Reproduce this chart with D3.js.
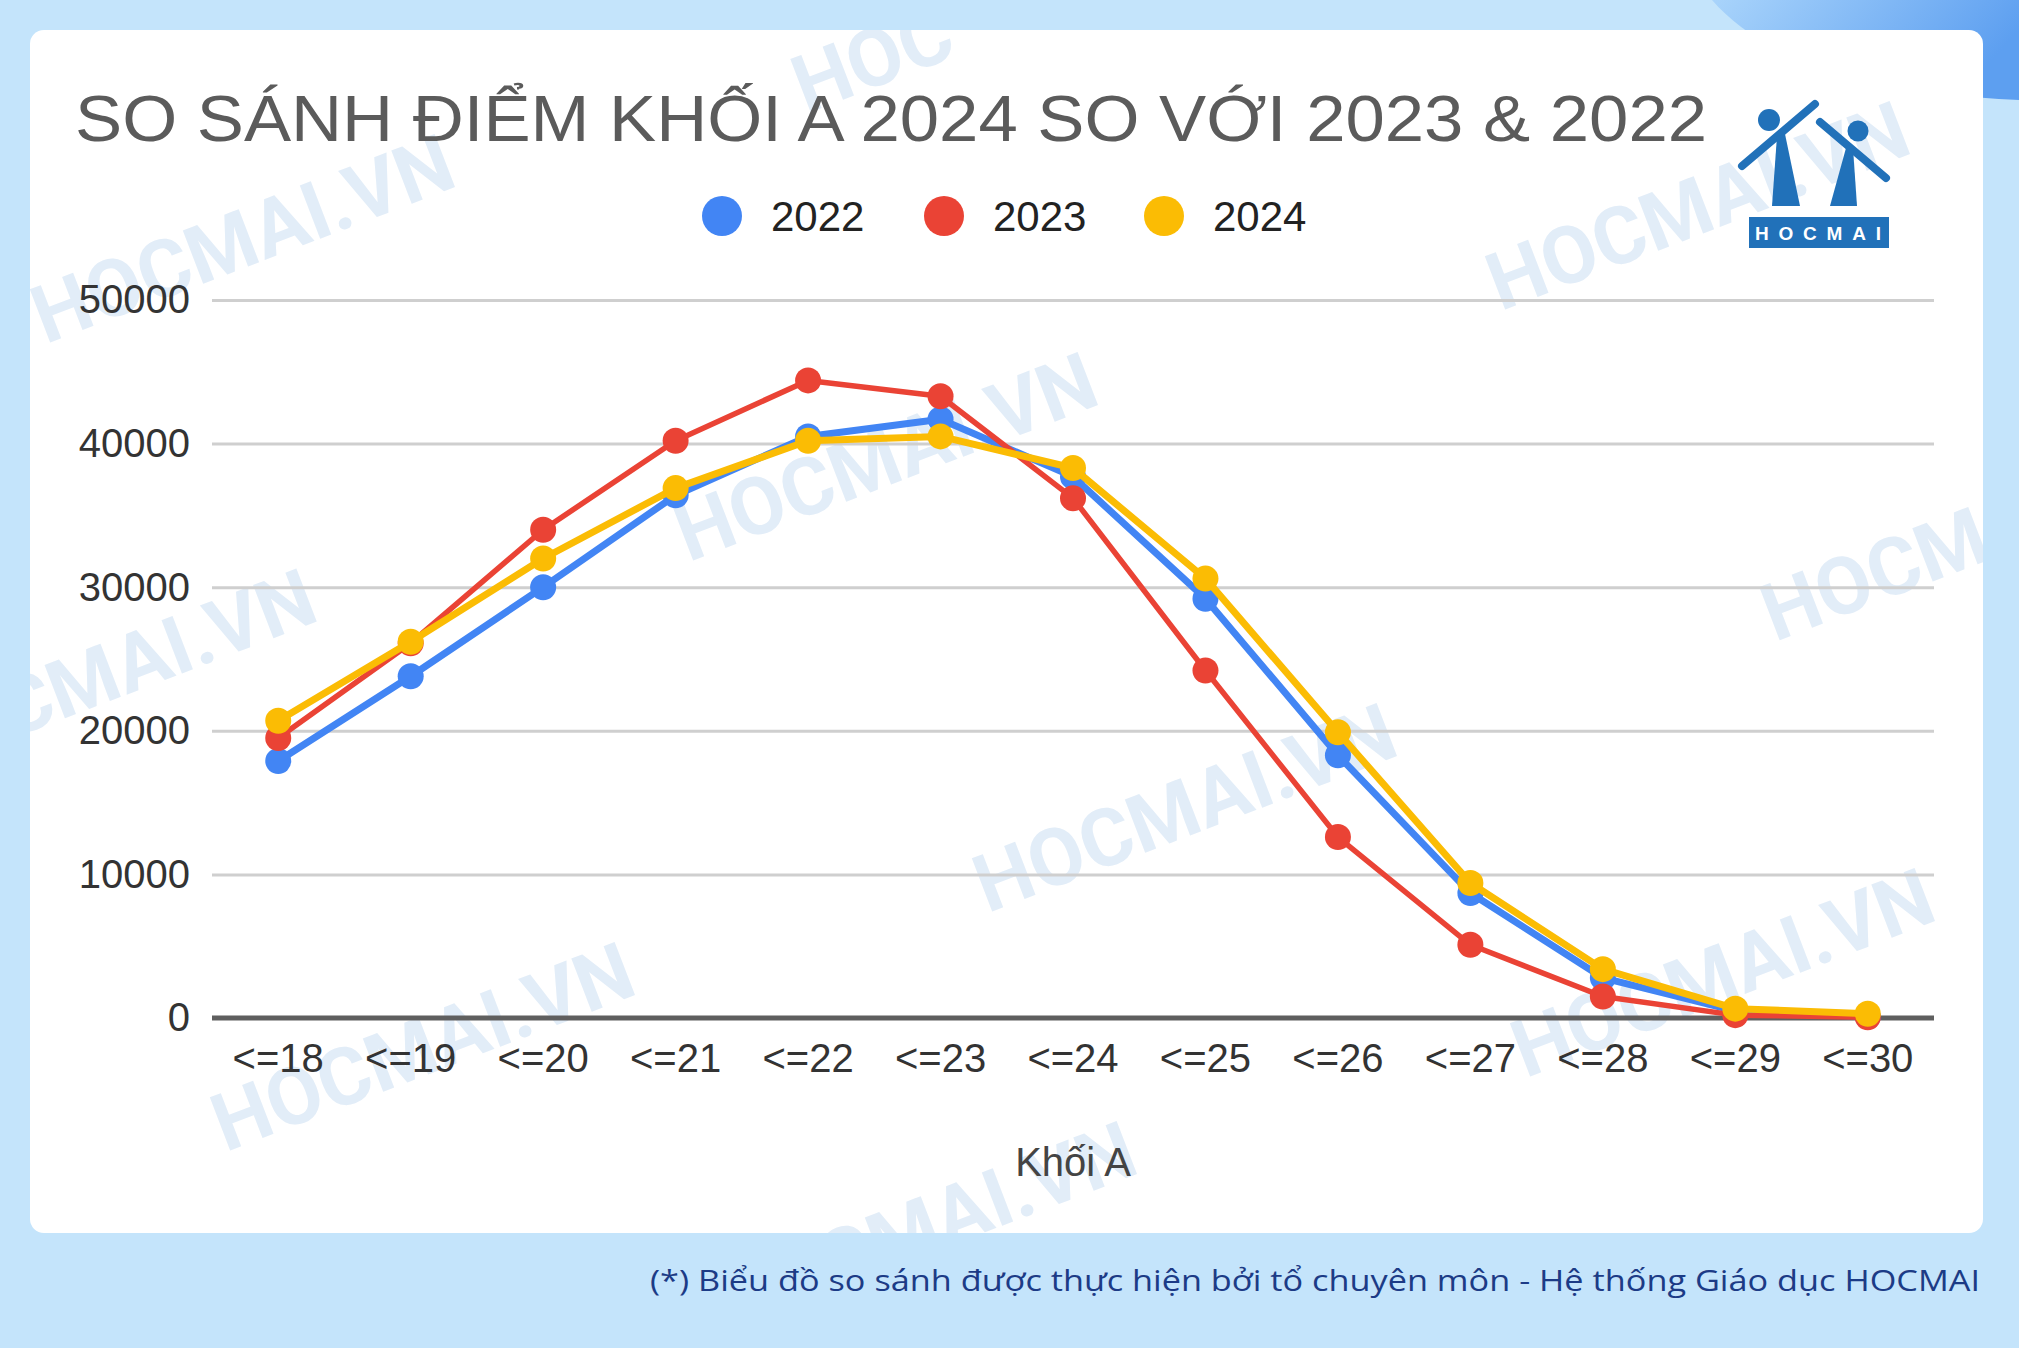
<!DOCTYPE html>
<html><head><meta charset="utf-8">
<script src="https://cdn.jsdelivr.net/npm/d3@7"></script>
<style>html,body{margin:0;padding:0;background:#c4e4fb;overflow:hidden}</style>
</head><body>
<svg id="c" width="2019" height="1348"></svg>
<script>
const categories = ["<=18","<=19","<=20","<=21","<=22","<=23","<=24","<=25","<=26","<=27","<=28","<=29","<=30"];
const years = ["2022","2023","2024"];
const values2022 = [17900, 23800, 30000, 36400, 40500, 41700, 37700, 29200, 18300, 8700, 2800, 500, 100];
const values2023 = [19500, 26100, 34000, 40200, 44400, 43300, 36200, 24200, 12600, 5100, 1500, 200, 50];
const values2024 = [20700, 26200, 32000, 36900, 40200, 40500, 38300, 30600, 19900, 9400, 3400, 650, 300];
const yTicks = [0, 10000, 20000, 30000, 40000, 50000];
const titleText = "SO SÁNH ĐIỂM KHỐI A 2024 SO VỚI 2023 & 2022";
const xTitle = "Khối A";
const footerText = "(*) Biểu đồ so sánh được thực hiện bởi tổ chuyên môn - Hệ thống Giáo dục HOCMAI";
const colors = ["#4285f4", "#ea4335", "#fbbc04"];
const seriesValues = [values2022, values2023, values2024];

const svg = d3.select("#c");
const defs = svg.append("defs");
const grad = defs.append("linearGradient").attr("id","tr").attr("x1","0").attr("y1","0").attr("x2","1").attr("y2","0.3");
grad.append("stop").attr("offset","0").attr("stop-color","#a9d4fb");
grad.append("stop").attr("offset","1").attr("stop-color","#5d9ff0");
defs.append("clipPath").attr("id","card").append("rect").attr("x",30).attr("y",30).attr("width",1953).attr("height",1203).attr("rx",14);

svg.append("rect").attr("width",2019).attr("height",1348).attr("fill","#c4e4fb");
svg.append("path").attr("d","M1712,0 C1760,55 1850,92 2019,100 L2019,0 Z").attr("fill","url(#tr)");
svg.append("rect").attr("x",30).attr("y",30).attr("width",1953).attr("height",1203).attr("rx",14).attr("fill","#ffffff");

// watermarks: [x, y, anchor, text]
const wmItems = [
  [245,245,"middle","HOCMAI.VN"],[888,463,"middle","HOCMAI.VN"],[1700,212,"middle","HOCMAI.VN"],
  [314,600,"end","CMAI.VN"],[1187,814,"middle","HOCMAI.VN"],[1775,642,"start","HOCM"],
  [425,1053,"middle","HOCMAI.VN"],[1725,979,"middle","HOCMAI.VN"],[806,114,"start","HOC"],[927,1232,"middle","HOCMAI.VN"]
];
const wm = svg.append("g").attr("clip-path","url(#card)");
wm.selectAll("text").data(wmItems).join("text")
  .attr("transform", d => `translate(${d[0]},${d[1]}) rotate(-21)`)
  .attr("text-anchor", d => d[2])
  .attr("dominant-baseline", d => d[2] === "middle" || d[2] === "end" ? "middle" : "auto")
  .attr("font-family","Roboto, 'Liberation Sans', sans-serif").attr("font-weight","bold")
  .attr("font-size",80).attr("fill","#e2edf8").text(d => d[3]);

// title
svg.append("text").attr("x",75).attr("y",141).attr("font-family","'Liberation Sans', Arial, sans-serif")
  .attr("font-size",64).attr("fill","#5b5b5b").attr("textLength",1632).attr("lengthAdjust","spacingAndGlyphs").text(titleText);

// legend
const legX = [722, 944, 1164];
const leg = svg.append("g");
years.forEach((yr,i) => {
  leg.append("circle").attr("cx",legX[i]).attr("cy",216).attr("r",20).attr("fill",colors[i]);
  leg.append("text").attr("x",legX[i]+49).attr("y",231).attr("font-family","'Liberation Sans', Arial, sans-serif")
    .attr("font-size",42).attr("fill","#222").text(yr);
});

// logo
const logo = svg.append("g").attr("fill","#2171b9");
logo.append("circle").attr("cx",1769).attr("cy",120).attr("r",11);
logo.append("line").attr("x1",1742).attr("y1",166).attr("x2",1815).attr("y2",104).attr("stroke","#2171b9").attr("stroke-width",8).attr("stroke-linecap","round");
logo.append("path").attr("d","M1777,136 L1785,134 L1800,206 L1772,206 Z");
logo.append("circle").attr("cx",1858).attr("cy",131).attr("r",10.5);
logo.append("line").attr("x1",1820).attr("y1",122).attr("x2",1886).attr("y2",178).attr("stroke","#2171b9").attr("stroke-width",8).attr("stroke-linecap","round");
logo.append("path").attr("d","M1846,148 L1853,148 L1857,206 L1830,206 Z");
logo.append("rect").attr("x",1749).attr("y",217).attr("width",140).attr("height",31);
logo.append("text").attr("x",1755).attr("y",240).attr("font-family","'Liberation Sans', Arial, sans-serif").attr("font-weight","bold")
  .attr("font-size",19).attr("fill","#fff").attr("textLength",126).attr("lengthAdjust","spacing").text("HOCMAI");

// scales
const x = d3.scaleBand().domain(categories).range([212,1934]).padding(0);
const y = d3.scaleLinear().domain([0,50000]).range([1018,300]);

// grid + y axis
const yAxis = svg.append("g").attr("transform","translate(212,0)")
  .call(d3.axisLeft(y).tickValues(yTicks).tickSize(-1722).tickPadding(22).tickFormat(d3.format("d")));
yAxis.select(".domain").remove();
yAxis.selectAll(".tick line").attr("stroke", d => d === 0 ? "none" : "#cfcfcf").attr("stroke-width",3);
yAxis.selectAll(".tick text").attr("font-family","'Liberation Sans', Arial, sans-serif").attr("font-size",40).attr("fill","#333");
svg.append("line").attr("x1",212).attr("x2",1934).attr("y1",y(0)).attr("y2",y(0)).attr("stroke","#5f5f5f").attr("stroke-width",5);

// x axis labels
const xAxis = svg.append("g").attr("transform",`translate(0,${y(0)})`)
  .call(d3.axisBottom(x).tickSize(0).tickPadding(40));
xAxis.select(".domain").remove();
xAxis.selectAll(".tick text").attr("font-family","'Liberation Sans', Arial, sans-serif").attr("font-size",40).attr("fill","#333").attr("dy","0.35em");

svg.append("text").attr("x",1073).attr("y",1176).attr("text-anchor","middle").attr("font-family","'Liberation Sans', Arial, sans-serif")
  .attr("font-size",40).attr("fill","#444").text(xTitle);

// lines
const line = d3.line().x((d,i) => x(categories[i]) + x.bandwidth()/2).y(d => y(d));
const lw = [7, 5.5, 7];
seriesValues.forEach((vals,k) => {
  const g = svg.append("g");
  g.append("path").datum(vals).attr("d",line).attr("fill","none").attr("stroke",colors[k]).attr("stroke-width",lw[k]).attr("stroke-linejoin","round");
  g.selectAll("circle").data(vals).join("circle")
    .attr("cx",(d,i) => x(categories[i]) + x.bandwidth()/2).attr("cy",d => y(d)).attr("r",13).attr("fill",colors[k]);
});

// footer
svg.append("text").attr("x",1980).attr("y",1291).attr("text-anchor","end").attr("font-family","'Open Sans', 'Noto Sans', sans-serif")
  .attr("font-size",29).attr("fill","#1c3b86").attr("textLength",1330).attr("lengthAdjust","spacingAndGlyphs").text(footerText);
</script>
</body></html>
